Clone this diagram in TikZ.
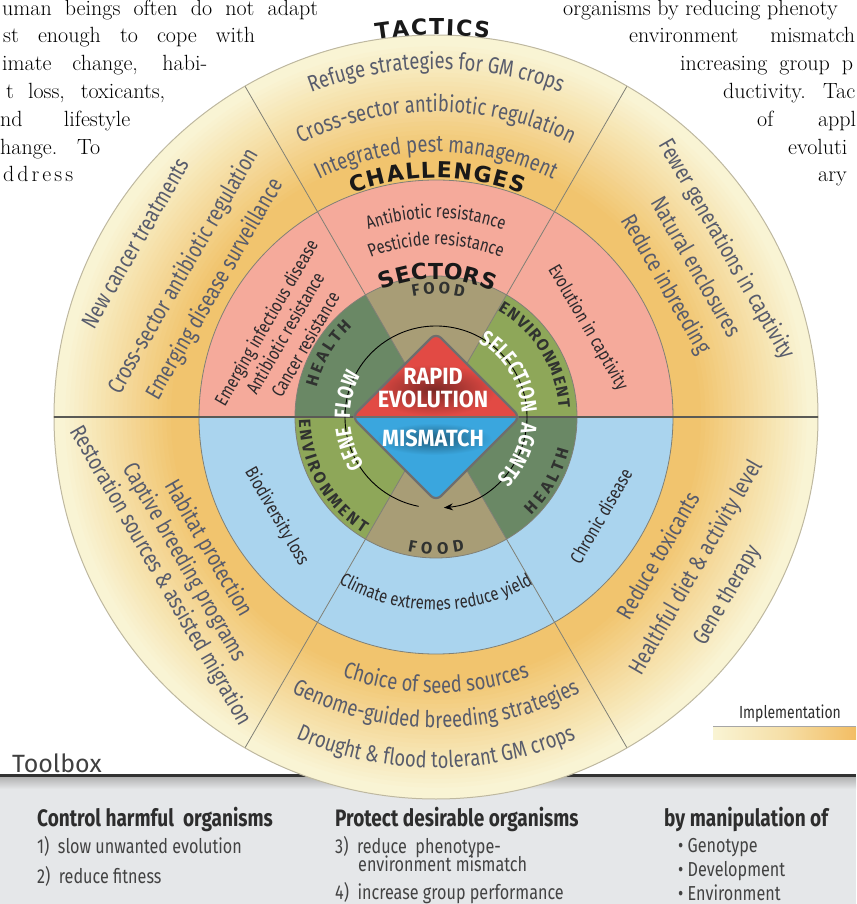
\documentclass[tikz,border=0pt]{standalone}
\usepackage{fontspec}
\usetikzlibrary{decorations.text,arrows.meta}
\newfontfamily\cnd[FakeStretch=0.8]{Fira Sans}
\newfontfamily\cndw[FakeStretch=0.92]{Fira Sans}
\newfontfamily\fira{Fira Sans}
\newfontfamily\heavy{DejaVu Sans}
\newcommand\tacF{\cnd\fontsize{23}{27}\selectfont}
\newcommand\chF{\cnd\fontsize{18.5}{22}\selectfont}
\newcommand\secF{\fira\bfseries\fontsize{16.5}{18}\selectfont}
\newcommand\inF{\cnd\bfseries\fontsize{22}{26}\selectfont}
\newcommand\hdF{\heavy\bfseries\fontsize{22}{26}\selectfont}
\newcommand\bodyF{\rmfamily\fontsize{22}{26}\selectfont}
\newcommand\diaF{\cndw\bfseries\fontsize{23.5}{27}\selectfont}
\newcommand\tbhF{\cnd\bfseries\fontsize{23.8}{27}\selectfont}
\newcommand\tbiF{\cnd\fontsize{20.2}{24}\selectfont}
\definecolor{tacO}{RGB}{241,196,110}
\definecolor{tacP}{RGB}{249,244,212}
\definecolor{pinkC}{RGB}{245,170,155}
\definecolor{blueC}{RGB}{170,212,238}
\definecolor{healthC}{RGB}{106,136,101}
\definecolor{foodC}{RGB}{168,157,118}
\definecolor{envC}{RGB}{142,167,89}
\definecolor{tacT}{RGB}{88,92,108}
\definecolor{chT}{RGB}{45,42,45}
\definecolor{secT}{RGB}{48,50,48}
\definecolor{redD}{RGB}{226,74,68}
\definecolor{blueD}{RGB}{58,166,222}
\definecolor{lineC}{RGB}{128,128,118}
\definecolor{outerC}{RGB}{190,184,160}
\definecolor{hlineC}{RGB}{90,90,85}
\definecolor{diaL}{RGB}{110,110,110}
\definecolor{tbG}{RGB}{229,231,233}
\definecolor{tbL}{RGB}{50,50,50}
\definecolor{tbT}{RGB}{45,45,45}
\definecolor{hdC}{RGB}{25,25,25}
\tikzset{
  curved/.style 2 args={decorate,decoration={text along path,text align=center,text color=#1,text={#2}}},
  fitted/.style 2 args={decorate,decoration={text along path,text align=fit to path,text color=#1,text={#2}}},
  tactxt/.style={font=\tacF,text=tacT,inner sep=0pt},
  chtxt/.style={font=\chF,text=chT,inner sep=0pt},
  bodytxt/.style={font=\bodyF,text=black,inner sep=0pt,anchor=base west},
  tbhead/.style={font=\tbhF,text=tbT,inner sep=0pt,anchor=base west},
  tbitem/.style={font=\tbiF,text=tbT!90,inner sep=0pt,anchor=base west},
  radline/.style={draw=lineC,line width=0.8pt},
  diatxt/.style={font=\diaF,text=white,inner sep=0pt},
}
\begin{document}
\begin{tikzpicture}[x=1pt,y=1pt]
\useasboundingbox (-436,-487) rectangle (420,417);
% ---------- toolbox band ----------
\fill[tbG] (-436,-487) rectangle (420,-360);
\shade[top color=black!30,bottom color=tbG] (-436,-360) rectangle (420,-372);
\draw[tbL,line width=2.5pt] (-436,-358.5) -- (420,-358.5);
% ---------- tactics ring ----------
\fill[tacP] (0,0) circle (382pt);
\foreach \i in {0,...,25}{
  \pgfmathsetmacro\rr{375-4.4*\i}
  \pgfmathtruncatemacro\pp{4*\i}
  \fill[tacO!\pp!tacP] (0,0) circle (\rr pt);
}
% ---------- challenges ring ----------
\fill[pinkC] (0,0) -- (0:237) arc[start angle=0,end angle=180,radius=237pt] -- cycle;
\fill[blueC] (0,0) -- (180:237) arc[start angle=180,end angle=360,radius=237pt] -- cycle;
% ---------- sectors ring ----------
\fill[envC] (0,0) -- (0:141) arc[start angle=0,end angle=60,radius=141pt] -- cycle;
\fill[foodC] (0,0) -- (60:141) arc[start angle=60,end angle=120,radius=141pt] -- cycle;
\fill[healthC] (0,0) -- (120:141) arc[start angle=120,end angle=180,radius=141pt] -- cycle;
\fill[envC] (0,0) -- (180:141) arc[start angle=180,end angle=240,radius=141pt] -- cycle;
\fill[foodC] (0,0) -- (240:141) arc[start angle=240,end angle=300,radius=141pt] -- cycle;
\fill[healthC] (0,0) -- (300:141) arc[start angle=300,end angle=360,radius=141pt] -- cycle;
% ---------- lines ----------
\foreach \a in {60,120,240,300}{\draw[radline] (0,0) -- (\a:382);}
\draw[radline] (0,0) circle (237pt);
\draw[radline] (0,0) circle (141pt);
\draw[outerC,line width=1pt] (0,0) circle (382pt);
\draw[hlineC,line width=2.2pt] (180:382) -- (0:382);
% ---------- headers ----------
\path[fitted={hdC}{|\hdF|TACTICS}] (99:382) arc[start angle=99,end angle=82,radius=382pt];
\path[fitted={hdC}{|\hdF|CHALLENGES}] (110.5:239) arc[start angle=110.5,end angle=68.9,radius=239pt];
\path[fitted={hdC}{|\hdF|SECTORS}] (113:138) arc[start angle=113,end angle=65.5,radius=138pt];
% ---------- tactics texts ----------
\path[curved={tacT}{|\tacF|Refuge strategies for GM crops}] (140:348) arc[start angle=140,end angle=40,radius=348pt];
\path[curved={tacT}{|\tacF|Cross-sector antibiotic regulation}] (140:305) arc[start angle=140,end angle=40,radius=305pt];
\path[curved={tacT}{|\tacF|Integrated pest management}] (140:265) arc[start angle=140,end angle=40,radius=265pt];
\path[curved={tacT}{|\tacF|Choice of seed sources}] (220:276) arc[start angle=220,end angle=320,radius=276pt];
\path[curved={tacT}{|\tacF|Genome-guided breeding strategies}] (220:311) arc[start angle=220,end angle=320,radius=311pt];
\path[curved={tacT}{|\tacF|Drought {\&} flood tolerant GM crops}] (220:351) arc[start angle=220,end angle=320,radius=351pt];
\node[tactxt,rotate=60] (tl1) at (150:347) {New cancer treatments};
\node[tactxt,rotate=60] (tl2) at (150:291) {Cross-sector antibiotic regulation};
\node[tactxt,rotate=60] (tl3) at (150:255) {Emerging disease surveillance};
\node[tactxt,rotate=-60] (tr1) at (30:335) {Fewer generations in captivity};
\node[tactxt,rotate=-60] (tr2) at (30:301) {Natural enclosures};
\node[tactxt,rotate=-60] (tr3) at (30:265) {Reduce inbreeding};
\node[tactxt,rotate=-60] (bl1) at (210:263) {Habitat protection};
\node[tactxt,rotate=-60] (bl2) at (210:291) {Captive breeding programs};
\node[tactxt,rotate=-60] (bl3) at (210:318) {Restoration sources {\&} assisted migration};
\node[tactxt,rotate=60] (br1) at (328:261) {Reduce toxicants};
\node[tactxt,rotate=60] (br2) at (330:301) {Healthful diet {\&} activity level};
\node[tactxt,rotate=60] (br3) at (328.5:342) {Gene therapy};
% ---------- challenges texts ----------
\path[curved={chT}{|\chF|Antibiotic resistance}] (130:199) arc[start angle=130,end angle=50,radius=199pt];
\path[curved={chT}{|\chF|Pesticide resistance}] (130:172) arc[start angle=130,end angle=50,radius=172pt];
\path[curved={chT}{|\chF|Climate extremes reduce yield}] (220:193) arc[start angle=220,end angle=320,radius=193pt];
\node[chtxt,rotate=60] (cl1) at (151:193) {Emerging infectious disease};
\node[chtxt,rotate=60] (cl2) at (151:173) {Antibiotic resistance};
\node[chtxt,rotate=60] (cl3) at (151:150) {Cancer resistance};
\node[chtxt,rotate=-60] (cr1) at (30.5:176) {Evolution in captivity};
\node[chtxt,rotate=-60] (cb1) at (212:188) {Biodiversity loss};
\node[chtxt,rotate=60] (cb2) at (329:192) {Chronic disease};
% ---------- sector labels ----------
\path[fitted={secT}{|\secF|FOOD}] (101:123) arc[start angle=101,end angle=77,radius=123pt];
\path[fitted={secT}{|\secF|HEALTH}] (166:123) arc[start angle=166,end angle=133,radius=123pt];
\path[fitted={secT}{|\secF|ENVIRONMENT}] (60:123) arc[start angle=60,end angle=4,radius=123pt];
\path[fitted={secT}{|\secF|ENVIRONMENT}] (181:137) arc[start angle=181,end angle=238,radius=137pt];
\path[fitted={secT}{|\secF|FOOD}] (258:137) arc[start angle=258,end angle=282,radius=137pt];
\path[fitted={secT}{|\secF|HEALTH}] (314:137) arc[start angle=314,end angle=346,radius=137pt];
% ---------- arrow circle ----------
\draw[black,line width=0.9pt,-{Stealth[length=9pt,width=7pt]}] (259:91) arc[start angle=259,end angle=-85,radius=91pt];
% ---------- inner words ----------
\path[curved={white}{|\inF|GENE{\hbox to 4pt{}} FLOW}] (250:86) arc[start angle=250,end angle=115,radius=86pt];
\path[curved={white}{|\inF|SELECTION{\hbox to 6pt{}} AGENTS}] (75:86) arc[start angle=75,end angle=-60,radius=86pt];
% ---------- diamond ----------
\begin{scope}
  \clip[rounded corners=7pt] (0,84) -- (84,0) -- (0,-84) -- (-84,0) -- cycle;
  \fill[redD] (-95,0) rectangle (95,95);
  \shade[inner color=redD!55!black,outer color=redD] (-2,27) ellipse (62pt and 26pt);
  \fill[blueD] (-95,0) rectangle (95,-95);
  \shade[inner color=blueD!55!black,outer color=blueD] (-2,-22) ellipse (58pt and 16pt);
\end{scope}
\draw[diaL,line width=2.2pt,rounded corners=7pt] (0,84) -- (84,0) -- (0,-84) -- (-84,0) -- cycle;
\draw[diaL,line width=1.8pt] (-83,0) -- (83,0);
\node[diatxt] (d1) at (-3,41) {RAPID};
\node[diatxt] (d2) at (-3,17.5) {EVOLUTION};
\node[diatxt] (d3) at (-3,-21) {MISMATCH};
% ---------- implementation legend ----------
\node[font=\cnd\fontsize{17.5}{20}\selectfont,text=tbT,inner sep=0pt] (impl) at (354,-297) {Implementation};
\shade[left color=tacP,right color=tacO!90!orange,middle color=tacO!45!tacP] (277,-310) rectangle (420,-322);
\draw[black!35,line width=0.6pt] (277,-309.5) -- (420,-309.5);
% ---------- toolbox text ----------
\node[font=\fira\fontsize{25}{28}\selectfont,text=black!75,inner sep=0pt,anchor=base west] (tbx) at (-424,-355) {Toolbox};
\node[tbhead] (h1) at (-399,-409) {Control harmful\ \ organisms};
\node[tbhead] (h2) at (-101,-409) {Protect desirable organisms};
\node[tbhead] (h3) at (228,-409) {by manipulation of};
\node[tbitem] (i1) at (-399,-436) {1)\ \ slow unwanted evolution};
\node[tbitem] (i2) at (-399,-466) {2)\ \ reduce fitness};
\node[tbitem] (i3) at (-101,-436) {3)\ \ reduce\ \ phenotype-};
\node[tbitem] (i3b) at (-78,-454) {environment mismatch};
\node[tbitem] (i4) at (-101,-482) {4)\ \ increase group performance};
\node[tbitem] (m1) at (242,-435) {\textbullet\ Genotype};
\node[tbitem] (m2) at (242,-459) {\textbullet\ Development};
\node[tbitem] (m3) at (242,-483) {\textbullet\ Environment};
% ---------- body text left ----------
\node[bodytxt] (L1) at (-434,401) {\makebox[316pt][s]{uman beings often do not adapt}};
\node[bodytxt] (L2) at (-433,374) {\makebox[252pt][s]{st enough to cope with}};
\node[bodytxt] (L3) at (-434,346) {\makebox[205pt][s]{imate change, habi-}};
\node[bodytxt] (L4) at (-430,318) {\makebox[159pt][s]{t loss, toxicants,}};
\node[bodytxt] (L5) at (-436,290) {\makebox[130pt][s]{nd lifestyle}};
\node[bodytxt] (L6) at (-436,262) {\makebox[100pt][s]{hange. To}};
\node[bodytxt] (L7) at (-433,235) {\makebox[70pt][s]{d\hfill d\hfill r\hfill e\hfill s\hfill s}};
% ---------- body text right ----------
\node[bodytxt] (R1) at (127,401) {organisms by reducing phenoty};
\node[bodytxt] (R2) at (193,374) {\makebox[226pt][s]{environment mismatch}};
\node[bodytxt] (R3) at (244,346) {\makebox[173pt][s]{increasing group p}};
\node[bodytxt] (R4) at (287,318) {\makebox[132pt][s]{ductivity. Tac}};
\node[bodytxt] (R5) at (321,290) {\makebox[99pt][s]{of appl}};
\node[bodytxt] (R6) at (352,262) {evoluti};
\node[bodytxt] (R7) at (382,235) {ary};
\end{tikzpicture}
\end{document}
